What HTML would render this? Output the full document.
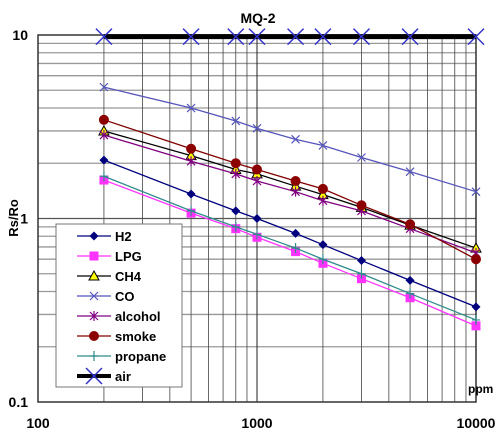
<!DOCTYPE html>
<html><head><meta charset="utf-8"><style>
body{margin:0;background:#fff;}
svg{display:block;font-family:"Liberation Sans",sans-serif;font-weight:bold;}
</style></head><body>
<svg id="c" width="499" height="434"></svg>
<script>
const xs=[200,500,800,1000,1500,2000,3000,5000,10000];
const seriesNames=["H2","LPG","CH4","CO","alcohol","smoke","propane","air"];
const h2=[2.08,1.36,1.1,1.0,0.83,0.72,0.59,0.46,0.33];
const lpg=[1.62,1.07,0.88,0.79,0.66,0.57,0.47,0.37,0.26];
const ch4=[3.0,2.2,1.85,1.75,1.5,1.35,1.15,0.92,0.69];
const co=[5.2,4.0,3.4,3.1,2.7,2.5,2.15,1.8,1.4];
const alcohol=[2.85,2.05,1.75,1.6,1.4,1.25,1.1,0.88,0.65];
const smoke=[3.45,2.4,2.0,1.85,1.6,1.45,1.18,0.93,0.6];
const propane=[1.7,1.1,0.9,0.82,0.69,0.6,0.5,0.39,0.28];
const air=[9.8,9.8,9.8,9.8,9.8,9.8,9.8,9.8,9.8];
const xTicks=[100,1000,10000];
const yTicks=[0.1,1,10];
const yTickLabels=["0.1","1","10"];

const L=38,R=476,T=35,B=402;
const X=v=>L+(Math.log10(v)-2)/2*(R-L);
const Y=v=>B-(Math.log10(v)+1)/2*(B-T);
const svg=document.getElementById('c');
const NS="http://www.w3.org/2000/svg";
function el(t,a,p){const e=document.createElementNS(NS,t);for(const k in a)e.setAttribute(k,a[k]);(p||svg).appendChild(e);return e;}

for(let d=-1;d<1;d++)for(let m=2;m<=9;m++){
 const g=el('line',{x1:L,x2:R,y1:Y(m*Math.pow(10,d)),y2:Y(m*Math.pow(10,d)),stroke:'#999','stroke-width':1.3});
 
 
}
for(let d=2;d<4;d++)for(let m=2;m<=9;m++){
 const g=el('line',{x1:X(m*Math.pow(10,d)),x2:X(m*Math.pow(10,d)),y1:T,y2:B,stroke:'#444','stroke-width':0.8});
 
 
}
[1].forEach(v=>{const g=el('line',{x1:L,x2:R,y1:Y(v),y2:Y(v),stroke:'#555','stroke-width':1.3});
 });
[1000].forEach(v=>{const g=el('line',{x1:X(v),x2:X(v),y1:T,y2:B,stroke:'#222','stroke-width':1});
 });
const fr=el('rect',{x:L,y:T,width:R-L,height:B-T,fill:'none',stroke:'#333','stroke-width':1.5});


xTicks.forEach(v=>{const t=el('text',{x:X(v),y:428,'text-anchor':'middle','font-size':14});t.textContent=String(v);
 });
yTicks.forEach((v,i)=>{const t=el('text',{x:28,y:Y(v)+5,'text-anchor':'end','font-size':14});t.textContent=yTickLabels[i];
 });
let t=el('text',{x:258,y:23,'text-anchor':'middle','font-size':14});t.textContent='MQ-2';

t=el('text',{x:0,y:0,'text-anchor':'middle','font-size':13,transform:'translate(18,218) rotate(-90)'});t.textContent='Rs/Ro';

t=el('text',{x:468,y:393,'font-size':12});t.textContent='ppm';


function marker(type,x,y,col,g){
 if(type==='diamond')el('path',{d:`M${x} ${y-4.5}L${x+4.5} ${y}L${x} ${y+4.5}L${x-4.5} ${y}Z`,fill:'#00007f'},g);
 else if(type==='square')el('rect',{x:x-4.5,y:y-4.5,width:9,height:9,fill:'#ff33ff'},g);
 else if(type==='tri')el('path',{d:`M${x} ${y-5}L${x+5} ${y+4}L${x-5} ${y+4}Z`,fill:'#ffff00',stroke:'#000','stroke-width':1},g);
 else if(type==='x')el('path',{d:`M${x-4} ${y-4}L${x+4} ${y+4}M${x-4} ${y+4}L${x+4} ${y-4}`,stroke:col,'stroke-width':1.2},g);
 else if(type==='star')el('path',{d:`M${x-4} ${y-4}L${x+4} ${y+4}M${x-4} ${y+4}L${x+4} ${y-4}M${x} ${y-5}L${x} ${y+5}`,stroke:col,'stroke-width':1.2},g);
 else if(type==='circle')el('circle',{cx:x,cy:y,r:5,fill:'#8b0000'},g);
 else if(type==='plus')el('path',{d:`M${x-4} ${y}L${x+4} ${y}M${x} ${y-5}L${x} ${y+5}`,stroke:col,'stroke-width':1.2},g);
 else if(type==='bigx')el('path',{d:`M${x-8} ${y-8}L${x+8} ${y+8}M${x-8} ${y+8}L${x+8} ${y-8}`,stroke:'#3333cc','stroke-width':1.5},g);
}
const series=[
 {n:'H2',d:h2,c:'#00007f',m:'diamond',w:1.3},
 {n:'LPG',d:lpg,c:'#ff33ff',m:'square',w:1.3},
 {n:'CH4',d:ch4,c:'#000',m:'tri',w:1.3},
 {n:'CO',d:co,c:'#5555bb',m:'x',w:1.3},
 {n:'alcohol',d:alcohol,c:'#800080',m:'star',w:1.3},
 {n:'smoke',d:smoke,c:'#800000',m:'circle',w:1.3},
 {n:'propane',d:propane,c:'#2e8b8b',m:'plus',w:1.3},
 {n:'air',d:air,c:'#000',m:'bigx',w:5}
];
series.forEach(s=>{
 const g=el('g',{});
 
 
 el('polyline',{points:xs.map((x,i)=>X(x)+','+Y(s.d[i])).join(' '),fill:'none',stroke:s.c,'stroke-width':s.w},g);
 xs.forEach((x,i)=>marker(s.m,X(x),Y(s.d[i]),s.c,g));
});

const lg=el('g',{});


el('rect',{x:56,y:224,width:126,height:163,fill:'#fff',stroke:'#777','stroke-width':1},lg);
series.forEach((s,i)=>{
 const y=236+i*20;
 const e=el('g',{},lg);
 
 
 el('line',{x1:77,x2:111,y1:y,y2:y,stroke:s.c,'stroke-width':s.n==='air'?4:1.2},e);
 marker(s.m,94,y,s.c,e);
 const tx=el('text',{x:115,y:y+5,'font-size':13},e);tx.textContent=s.n;
});
</script>
</body></html>
